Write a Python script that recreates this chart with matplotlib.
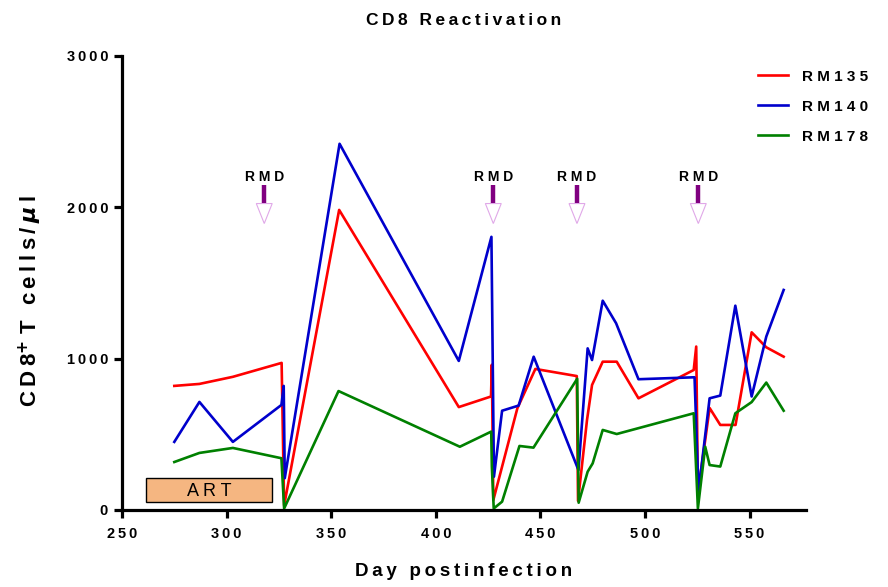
import matplotlib.pyplot as plt
from matplotlib.patches import Rectangle, Polygon

plt.rcParams['font.family'] = ['Liberation Sans', 'DejaVu Sans']
plt.rcParams['font.weight'] = 'bold'

# CD8+ T cell counts (cells/ul) by day postinfection
days_135 = [275, 287, 303, 326.3, 327.5, 353.8, 411, 426.4, 426.8, 427.5, 439, 447.6,
            467.4, 468, 472.3, 474.7, 479.8, 486.5, 496.9, 523.3, 524.5, 525.3,
            530.9, 536, 543.3, 551, 558, 566.3]
rm135 = [820, 833, 880, 972, 30, 1983, 680, 750, 960, 65, 672, 932,
         885, 60, 595, 826, 980, 980, 738, 925, 1080, 110,
         674, 562, 562, 1174, 1075, 1013]

days_140 = [275, 287, 303, 326.2, 327.3, 327.8, 354, 411, 426.6, 427.8, 431.7, 439.6,
            446.8, 468.2, 472.6, 474.7, 479.8, 486.2, 496.9, 523.7, 525.6,
            530.9, 536, 543.2, 551, 558, 566.3]
rm140 = [450, 714, 450, 694, 820, 210, 2420, 985, 1805, 220, 656, 690,
         1013, 264, 1068, 991, 1383, 1234, 864, 877, 121,
         738, 756, 1350, 750, 1146, 1454]

days_178 = [275, 287, 303, 326.2, 327.5, 353.5, 411.5, 426.5, 426.8, 427.7, 431.7, 440,
            446.7, 467.6, 468.3, 472.6, 475, 479.8, 486.5, 523.3, 525.3, 528.8,
            530.9, 536, 543.2, 551, 558, 566.3]
rm178 = [317, 377, 410, 342, 10, 786, 418, 518, 287, 10, 55, 423,
         412, 867, 48, 253, 308, 529, 502, 639, 10, 418,
         297, 287, 639, 713, 842, 656]

rmd_days = [318, 427.5, 467.5, 525.5]
art_start, art_end = 261.5, 321.8
xticks = [250, 300, 350, 400, 450, 500, 550]
yticks = [0, 1000, 2000, 3000]

THIN = '\u2009'


def spaced(s, gap=THIN):
    return gap.join(s)


fig = plt.figure(figsize=(8.88, 5.87), dpi=100)
ax = fig.add_axes([0.1374, 0.1312, 0.7703, 0.7734])

ax.plot(days_135, rm135, color='#ff0000', lw=1.9, label=spaced('RM135', ' '))
ax.plot(days_140, rm140, color='#0000cc', lw=1.9, label=spaced('RM140', ' '))
ax.plot(days_178, rm178, color='#008000', lw=1.9, label=spaced('RM178', ' '))

# RMD treatment markers: label, bar, hollow arrow head
for d in rmd_days:
    ax.text(d, 2200, spaced('RMD', ' '), ha='center', va='center', fontsize=10, fontweight='bold')
    ax.plot([d, d], [2030, 2150], color='#800080', lw=3.2, solid_capstyle='butt')
    ax.add_patch(Polygon([[d - 3.8, 2025], [d + 3.8, 2025], [d, 1893]], closed=True,
                         fill=False, edgecolor='#e0a8e8', lw=0.8))

# ART period box
ax.add_patch(Rectangle((art_start, 55), art_end - art_start, 155,
                       facecolor='#f5b681', edgecolor='black', lw=1.0))
ax.text((art_start + art_end) / 2, 120, spaced('ART', ' '), ha='center', va='center',
        fontsize=13, fontweight='normal')

ax.set_xlim(250, 577)
ax.set_ylim(0, 3000)
ax.set_xticks(xticks)
ax.set_xticklabels([spaced(str(v)) for v in xticks])
ax.set_yticks(yticks)
ax.set_yticklabels([spaced(str(v)) for v in yticks])

for side in ['top', 'right']:
    ax.spines[side].set_visible(False)
for side in ['left', 'bottom']:
    ax.spines[side].set_linewidth(2.3)
ax.tick_params(width=2.3, length=6, labelsize=10.5, direction='out')
ax.tick_params(axis='x', pad=6)
ax.tick_params(axis='y', pad=4)

ax.set_xlabel(spaced('Day postinfection'), fontsize=13.5, fontweight='bold', labelpad=16)
ax.set_ylabel(spaced('CD8') + r'$^{\mathbf{+}}$' + ' ' + spaced('T cells/') + THIN + r'$\mu$' + THIN + 'l',
              fontsize=16, fontweight='bold')
ax.yaxis.set_label_coords(-0.114, 0.46)
ax.set_title(spaced('CD8 Reactivation'), fontsize=12.5, fontweight='bold', pad=22)

fig.legend(loc='upper left', bbox_to_anchor=(0.838, 0.905), frameon=False, fontsize=11,
           handlelength=2.0, labelspacing=1.05, handletextpad=0.9)

fig.savefig('out.png', dpi=100)
